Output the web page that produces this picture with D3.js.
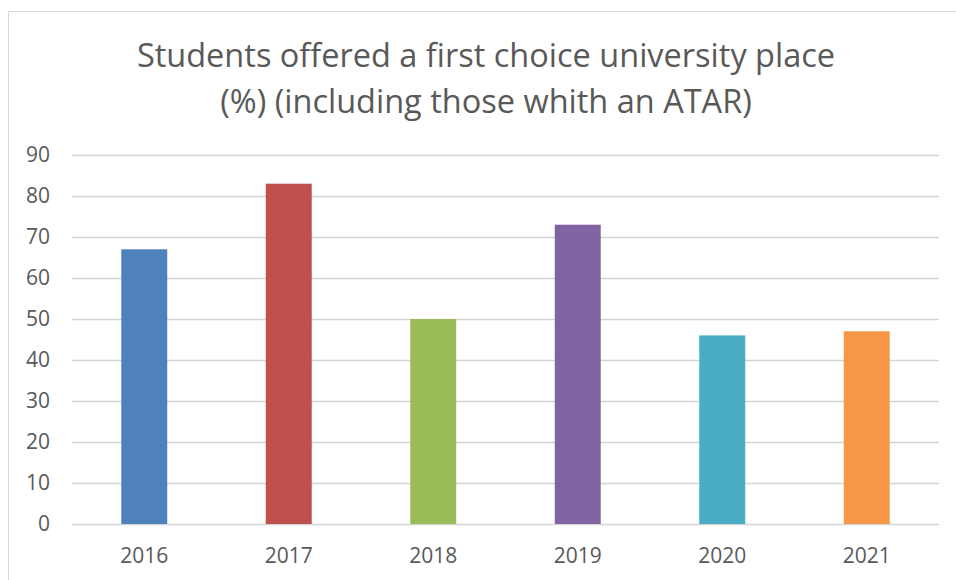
<!DOCTYPE html>
<html><head><meta charset="utf-8">
<script src="https://cdn.jsdelivr.net/npm/d3@7"></script>
<style>html,body{margin:0;padding:0;background:#fff;}</style>
</head><body>
<svg id="chart" width="956" height="580"></svg>
<script>
const categories = ["2016","2017","2018","2019","2020","2021"];
const values = [67, 83, 50, 73, 46, 47];
const colors = ["#4f81bd","#c0504d","#9bbb59","#8064a2","#4bacc6","#f79646"];
const yTicks = [0,10,20,30,40,50,60,70,80,90];
const titleLines = ["Students offered a first choice university place","(%) (including those whith an ATAR)"];

const svg = d3.select("#chart");
const font = "'Open Sans', 'Noto Sans', sans-serif";
const textColor = "#595959";

// chart border
svg.append("rect").attr("x",8.5).attr("y",11.5).attr("width",960).attr("height",600)
  .attr("fill","#fff").attr("stroke","#d9d9d9").attr("stroke-width",1);

const plot = {left:72, right:939, top:155, bottom:524};
const x = d3.scaleBand().domain(categories).range([plot.left, plot.right])
  .paddingInner(0.682).paddingOuter(0.341);
const y = d3.scaleLinear().domain([0,90]).range([plot.bottom, plot.top]);

// gridlines
svg.append("g").selectAll("line").data(yTicks).join("line")
  .attr("x1",plot.left).attr("x2",plot.right)
  .attr("y1",d=>Math.round(y(d))+0.5).attr("y2",d=>Math.round(y(d))+0.5)
  .attr("stroke","#d4d4d4").attr("stroke-width",1.5);

// bars
svg.append("g").selectAll("rect").data(values).join("rect")
  .attr("x",(d,i)=>x(categories[i]))
  .attr("width",x.bandwidth())
  .attr("y",d=>y(d))
  .attr("height",d=>y(0)-y(d))
  .attr("fill",(d,i)=>colors[i]);

// y axis labels
const yAxis = d3.axisLeft(y).tickValues(yTicks).tickSize(0).tickPadding(0);
const yg = svg.append("g").attr("transform",`translate(${50},0)`).call(yAxis);
yg.select(".domain").remove();
yg.selectAll("text").attr("font-family",font).attr("font-size",21).attr("fill",textColor);

// x axis labels
const xAxis = d3.axisBottom(x).tickSize(0).tickPadding(0);
const xg = svg.append("g").attr("transform",`translate(0,${548})`).call(xAxis);
xg.select(".domain").remove();
xg.selectAll("text").attr("font-family",font).attr("font-size",21).attr("fill",textColor);

// title
svg.append("g").selectAll("text").data(titleLines).join("text")
  .attr("x",486).attr("y",(d,i)=>67+i*46)
  .attr("text-anchor","middle")
  .attr("font-family",font).attr("font-size",32.5).attr("fill",textColor)
  .text(d=>d);
</script>
</body></html>
